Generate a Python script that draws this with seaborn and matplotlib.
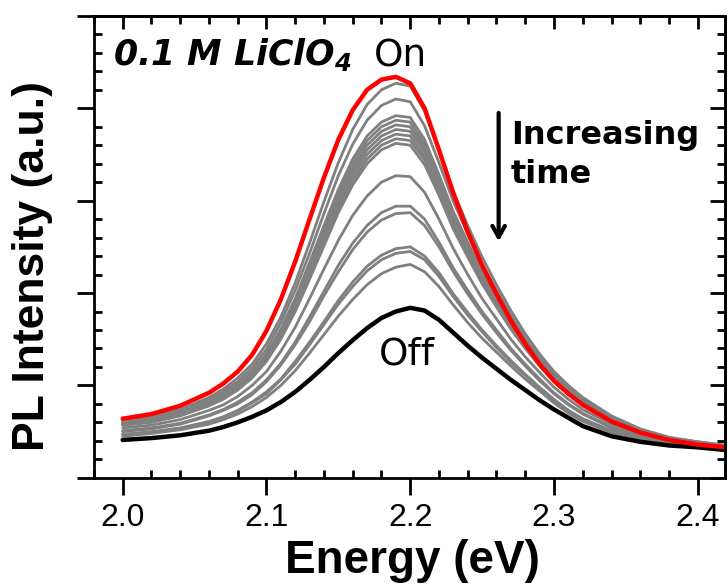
import pandas as pd
import seaborn as sns
import matplotlib.pyplot as plt
from matplotlib.ticker import MultipleLocator, NullFormatter

energy = [2.00, 2.02, 2.04, 2.06, 2.07, 2.08, 2.09, 2.10, 2.11, 2.12, 2.13, 2.14, 2.15, 2.16,
          2.17, 2.18, 2.19, 2.20, 2.21, 2.22, 2.23, 2.24, 2.25, 2.26, 2.27, 2.28, 2.29, 2.30,
          2.31, 2.32, 2.34, 2.36, 2.38, 2.40, 2.42]

# "On" spectrum (red) and "Off" spectrum (black), arbitrary units
on_curve = [0.64, 0.69, 0.78, 0.92, 1.02, 1.15, 1.33, 1.59, 1.93, 2.34, 2.80, 3.25, 3.66, 3.98,
            4.20, 4.31, 4.34, 4.27, 4.00, 3.55, 3.08, 2.66, 2.30, 1.99, 1.70, 1.45, 1.23, 1.05,
            0.91, 0.79, 0.61, 0.49, 0.41, 0.36, 0.33]
off_curve = [0.41, 0.43, 0.46, 0.51, 0.55, 0.60, 0.66, 0.73, 0.82, 0.93, 1.06, 1.20, 1.35, 1.49,
             1.62, 1.73, 1.80, 1.84, 1.81, 1.71, 1.57, 1.43, 1.30, 1.18, 1.06, 0.95, 0.84, 0.74,
             0.65, 0.56, 0.45, 0.39, 0.35, 0.33, 0.30]

# intermediate spectra (gray), decaying with time
gray_curves = [
    [0.63, 0.67, 0.74, 0.87, 0.96, 1.08, 1.23, 1.45, 1.74, 2.11, 2.54, 2.99, 3.41, 3.77,
     4.04, 4.20, 4.27, 4.24, 3.97, 3.54, 3.10, 2.73, 2.39, 2.09, 1.81, 1.56, 1.34, 1.15,
     1.00, 0.87, 0.67, 0.53, 0.44, 0.39, 0.35],
    [0.61, 0.65, 0.72, 0.85, 0.93, 1.04, 1.19, 1.39, 1.68, 2.03, 2.43, 2.86, 3.27, 3.61,
     3.87, 4.03, 4.10, 4.07, 3.81, 3.41, 2.99, 2.64, 2.31, 2.03, 1.76, 1.51, 1.30, 1.12,
     0.98, 0.85, 0.65, 0.52, 0.43, 0.39, 0.35],
    [0.60, 0.63, 0.70, 0.82, 0.90, 1.01, 1.15, 1.34, 1.61, 1.94, 2.33, 2.73, 3.12, 3.45,
     3.70, 3.85, 3.92, 3.90, 3.66, 3.28, 2.88, 2.55, 2.23, 1.96, 1.70, 1.47, 1.27, 1.09,
     0.95, 0.83, 0.64, 0.51, 0.43, 0.38, 0.34],
    [0.59, 0.63, 0.70, 0.81, 0.89, 1.00, 1.14, 1.33, 1.59, 1.92, 2.30, 2.70, 3.08, 3.40,
     3.65, 3.80, 3.87, 3.85, 3.61, 3.24, 2.85, 2.52, 2.21, 1.94, 1.69, 1.46, 1.26, 1.08,
     0.94, 0.82, 0.63, 0.51, 0.42, 0.38, 0.34],
    [0.59, 0.62, 0.69, 0.81, 0.89, 0.99, 1.12, 1.31, 1.57, 1.89, 2.27, 2.66, 3.03, 3.35,
     3.60, 3.75, 3.82, 3.80, 3.57, 3.21, 2.82, 2.49, 2.19, 1.92, 1.67, 1.45, 1.25, 1.07,
     0.93, 0.81, 0.63, 0.50, 0.42, 0.38, 0.34],
    [0.58, 0.62, 0.69, 0.80, 0.88, 0.98, 1.11, 1.30, 1.55, 1.87, 2.24, 2.62, 2.99, 3.31,
     3.55, 3.70, 3.77, 3.75, 3.53, 3.17, 2.79, 2.47, 2.17, 1.91, 1.66, 1.43, 1.24, 1.07,
     0.93, 0.81, 0.62, 0.50, 0.42, 0.38, 0.34],
    [0.58, 0.61, 0.68, 0.79, 0.87, 0.97, 1.10, 1.29, 1.53, 1.85, 2.21, 2.59, 2.95, 3.26,
     3.50, 3.65, 3.72, 3.70, 3.48, 3.13, 2.76, 2.44, 2.14, 1.89, 1.64, 1.42, 1.23, 1.06,
     0.92, 0.80, 0.62, 0.50, 0.42, 0.38, 0.34],
    [0.57, 0.61, 0.68, 0.78, 0.86, 0.96, 1.09, 1.27, 1.52, 1.82, 2.18, 2.55, 2.91, 3.21,
     3.45, 3.60, 3.67, 3.65, 3.44, 3.09, 2.72, 2.41, 2.12, 1.87, 1.63, 1.41, 1.22, 1.05,
     0.91, 0.79, 0.61, 0.49, 0.42, 0.37, 0.34],
    [0.57, 0.60, 0.67, 0.78, 0.85, 0.95, 1.08, 1.26, 1.50, 1.80, 2.15, 2.51, 2.87, 3.17,
     3.40, 3.55, 3.62, 3.60, 3.39, 3.06, 2.69, 2.39, 2.10, 1.85, 1.61, 1.40, 1.21, 1.04,
     0.90, 0.79, 0.61, 0.49, 0.42, 0.37, 0.34],
    [0.54, 0.57, 0.63, 0.73, 0.79, 0.88, 1.00, 1.15, 1.37, 1.63, 1.94, 2.26, 2.57, 2.84,
     3.05, 3.20, 3.27, 3.26, 3.09, 2.80, 2.48, 2.20, 1.94, 1.72, 1.50, 1.31, 1.14, 0.98,
     0.85, 0.74, 0.58, 0.47, 0.40, 0.37, 0.33],
    [0.51, 0.54, 0.59, 0.68, 0.74, 0.82, 0.92, 1.06, 1.24, 1.47, 1.74, 2.02, 2.30, 2.54,
     2.73, 2.87, 2.94, 2.94, 2.80, 2.55, 2.27, 2.03, 1.80, 1.60, 1.40, 1.23, 1.07, 0.92,
     0.80, 0.70, 0.55, 0.45, 0.39, 0.36, 0.32],
    [0.50, 0.53, 0.58, 0.67, 0.73, 0.80, 0.90, 1.04, 1.22, 1.44, 1.69, 1.97, 2.23, 2.47,
     2.66, 2.79, 2.86, 2.87, 2.73, 2.50, 2.23, 1.99, 1.77, 1.57, 1.38, 1.21, 1.05, 0.91,
     0.79, 0.69, 0.54, 0.45, 0.39, 0.36, 0.32],
    [0.47, 0.50, 0.54, 0.61, 0.66, 0.73, 0.82, 0.93, 1.07, 1.26, 1.47, 1.69, 1.92, 2.12,
     2.29, 2.41, 2.48, 2.50, 2.40, 2.22, 1.99, 1.79, 1.60, 1.43, 1.27, 1.12, 0.98, 0.85,
     0.73, 0.64, 0.51, 0.43, 0.37, 0.35, 0.31],
    [0.47, 0.49, 0.53, 0.60, 0.66, 0.72, 0.81, 0.91, 1.06, 1.23, 1.44, 1.66, 1.88, 2.07,
     2.24, 2.36, 2.43, 2.45, 2.36, 2.18, 1.96, 1.76, 1.58, 1.41, 1.25, 1.11, 0.97, 0.84,
     0.73, 0.63, 0.51, 0.43, 0.37, 0.35, 0.31],
    [0.45, 0.48, 0.52, 0.58, 0.63, 0.69, 0.77, 0.87, 1.00, 1.16, 1.35, 1.55, 1.75, 1.93,
     2.09, 2.21, 2.28, 2.31, 2.23, 2.07, 1.87, 1.68, 1.51, 1.36, 1.21, 1.07, 0.94, 0.81,
     0.70, 0.61, 0.49, 0.42, 0.37, 0.34, 0.31],
]

sns.set_style("ticks")
plt.rcParams['font.family'] = ['Liberation Sans', 'DejaVu Sans']
plt.rcParams['mathtext.fontset'] = 'custom'
plt.rcParams['mathtext.rm'] = 'DejaVu Sans:italic:bold'
plt.rcParams['axes.linewidth'] = 2
for key in ['text.color', 'axes.labelcolor', 'axes.edgecolor', 'xtick.color', 'ytick.color']:
    plt.rcParams[key] = 'black'

fig = plt.figure(figsize=(7.28, 5.87), dpi=100)
ax = fig.add_axes([0.129, 0.186, 0.867, 0.787])

# long-form table of the gray spectra
rows = []
for i, curve in enumerate(gray_curves):
    for e, v in zip(energy, curve):
        rows.append((i, e, v))
gray_df = pd.DataFrame(rows, columns=["scan", "energy", "pl"])

sns.lineplot(data=gray_df, x="energy", y="pl", units="scan", estimator=None,
             color="#808080", lw=2.0, ax=ax, solid_capstyle="round")
sns.lineplot(x=energy, y=off_curve, color="black", lw=3.2, ax=ax, solid_capstyle="round")
sns.lineplot(x=energy, y=on_curve, color="red", lw=3.2, ax=ax, solid_capstyle="round")

ax.set_xlim(1.98, 2.419)
ax.set_ylim(0, 5)

ax.xaxis.set_major_locator(MultipleLocator(0.1))
ax.xaxis.set_minor_locator(MultipleLocator(0.02))
ax.yaxis.set_major_locator(MultipleLocator(1))
ax.yaxis.set_minor_locator(MultipleLocator(0.2))
ax.yaxis.set_major_formatter(NullFormatter())

ax.tick_params(which="major", direction="out", length=12, width=2, labelsize=23, pad=6)
ax.tick_params(which="minor", direction="in", length=6, width=2)

# top and right axes with inward ticks only
top = ax.secondary_xaxis("top")
top.xaxis.set_major_locator(MultipleLocator(0.1))
top.xaxis.set_minor_locator(MultipleLocator(0.02))
top.xaxis.set_major_formatter(NullFormatter())
top.tick_params(which="major", direction="in", length=9, width=2)
top.tick_params(which="minor", direction="in", length=6, width=2)
right = ax.secondary_yaxis("right")
right.yaxis.set_major_locator(MultipleLocator(1))
right.yaxis.set_minor_locator(MultipleLocator(0.2))
right.yaxis.set_major_formatter(NullFormatter())
right.tick_params(which="major", direction="in", length=11, width=2)
right.tick_params(which="minor", direction="in", length=6, width=2)

ax.set_xlabel("Energy (eV)", fontsize=33, fontweight="bold")
ax.set_ylabel("PL Intensity (a.u.)", fontsize=32, fontweight="bold")
ax.xaxis.set_label_coords(0.504, -0.132)
ax.yaxis.set_label_coords(-0.065, 0.459)

ann_font = ["DejaVu Sans"]
ax.text(1.9934, 4.47, "0.1 M LiClO$_4$", fontsize=25, fontweight="bold", fontstyle="italic",
        family=ann_font)
ax.text(2.1744, 4.45, "On", fontsize=27, family=ann_font)
ax.text(2.178, 1.23, "Off", fontsize=27, family=ann_font)
ax.text(2.27, 3.61, "Increasing", fontsize=23, fontweight="bold", family=ann_font)
ax.text(2.27, 3.19, "time", fontsize=23, fontweight="bold", family=ann_font)
ax.annotate("", xy=(2.2615, 2.53), xytext=(2.2615, 3.98),
            arrowprops=dict(arrowstyle="->,head_length=0.8,head_width=0.45", lw=3, color="black"))

plt.savefig("out.png", dpi=100)
